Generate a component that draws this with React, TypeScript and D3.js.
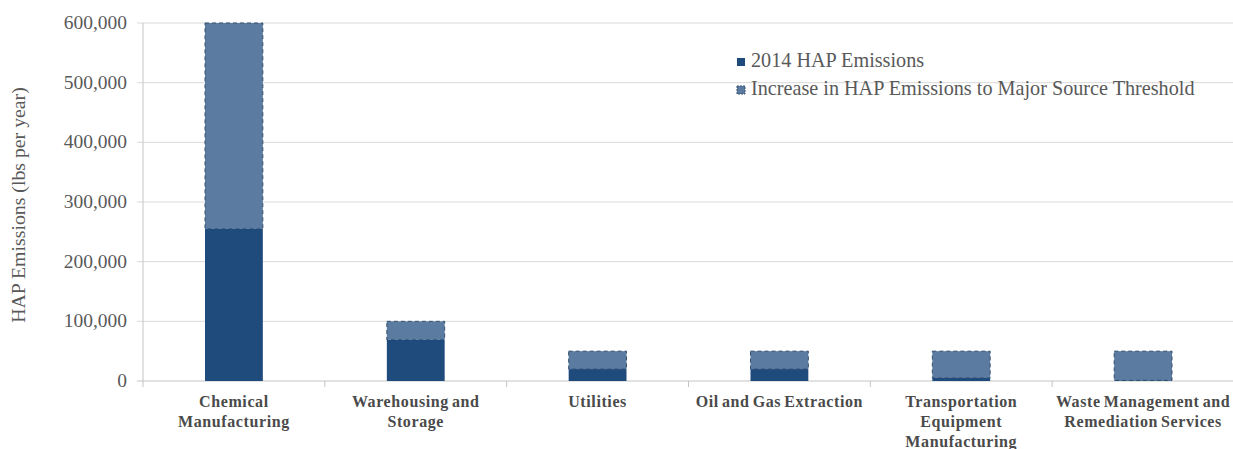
import React from "react";
import * as d3 from "d3";

const categories: string[][] = [
  ["Chemical", "Manufacturing"],
  ["Warehousing and", "Storage"],
  ["Utilities"],
  ["Oil and Gas Extraction"],
  ["Transportation", "Equipment", "Manufacturing"],
  ["Waste Management and", "Remediation Services"],
];
const emissions2014 = [255000, 69000, 20000, 20000, 5000, 1000];
const increaseToThreshold = [345000, 31000, 30000, 30000, 45000, 49000];
const yTicks = [0, 100000, 200000, 300000, 400000, 500000, 600000];
const seriesNames = ["2014 HAP Emissions", "Increase in HAP Emissions to Major Source Threshold"];

const W = 1233;
const H = 449;
const DARK = "#1f4a7c";
const LIGHT = "#5b7ba1";
const BORDER = "#34506f";
const FONT = "'Liberation Serif', 'Times New Roman', serif";

export default function App() {
  const left = 143;
  const right = 1234;
  const top = 23;
  const bottom = 381;
  const keys = categories.map((c) => c.join(" "));
  const x = d3.scaleBand<string>().domain(keys).range([left, right]).padding(0);
  const y = d3.scaleLinear().domain([0, 600000]).range([bottom, top]);
  const barW = x.bandwidth() * 0.318;
  const fmt = d3.format(",");

  return (
    <svg width={W} height={H} style={{ position: "absolute", left: 0, top: 0, background: "#fff" }} fontFamily={FONT}>
      {/* gridlines */}
      {yTicks.map((t) => (
        <g key={t}>
          <line x1={left - 6} x2={W} y1={y(t)} y2={y(t)} stroke={t === 0 ? "#c4c4c4" : "#d9d9d9"} strokeWidth={1} />
          <text x={127} y={y(t) + 6} textAnchor="end" fontSize={19.5} fill="#595959">
            {fmt(t)}
          </text>
        </g>
      ))}
      {/* y axis line */}
      <line x1={left} x2={left} y1={top} y2={bottom + 6} stroke="#c4c4c4" />
      {/* x category separators */}
      {keys.map((k) => (
        <line key={k} x1={(x(k) as number) + x.bandwidth()} x2={(x(k) as number) + x.bandwidth()} y1={bottom} y2={bottom + 6} stroke="#c4c4c4" />
      ))}
      {/* bars */}
      {keys.map((k, i) => {
        const cx = (x(k) as number) + x.bandwidth() / 2;
        const x0 = cx - barW / 2;
        const base = emissions2014[i];
        const total = base + increaseToThreshold[i];
        return (
          <g key={k}>
            <rect
              x={x0}
              y={y(total)}
              width={barW}
              height={y(base) - y(total)}
              fill={LIGHT}
              stroke={BORDER}
              strokeWidth={1}
              strokeDasharray="4,3"
            />
            <rect x={x0} y={y(base)} width={barW} height={y(0) - y(base)} fill={DARK} />
          </g>
        );
      })}
      {/* category labels */}
      {keys.map((k, i) => {
        const cx = (x(k) as number) + x.bandwidth() / 2;
        return (
          <text key={k} textAnchor="middle" fontSize={16} fontWeight="bold" fill="#4a4a4a" letterSpacing={0.6} wordSpacing={-1.5}>
            {categories[i].map((line, j) => (
              <tspan key={j} x={cx} y={407 + j * 20}>
                {line}
              </tspan>
            ))}
          </text>
        );
      })}
      {/* y-axis title */}
      <text
        transform={`translate(25, 205) rotate(-90)`}
        textAnchor="middle"
        fontSize={19.8}
        fill="#595959"
      >
        HAP Emissions (lbs per year)
      </text>
      {/* legend */}
      <g>
        <rect x={737} y={58} width={8} height={8} fill={DARK} />
        <text x={751} y={67} fontSize={20.2} fill="#595959">
          {seriesNames[0]}
        </text>
        <rect x={737} y={86} width={8} height={8} fill={LIGHT} stroke={BORDER} strokeWidth={1} strokeDasharray="2,1" />
        <text x={751} y={95} fontSize={20.2} fill="#595959">
          {seriesNames[1]}
        </text>
      </g>
    </svg>
  );
}
